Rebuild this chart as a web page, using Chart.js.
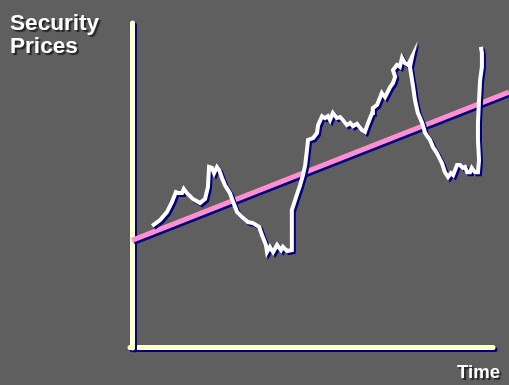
<!DOCTYPE html>
<html>
<head>
<meta charset="utf-8">
<script src="https://cdn.jsdelivr.net/npm/chart.js@4/dist/chart.umd.min.js"></script>
<style>
  body { margin: 0; background: #5f5f5f; }
  #wrap { position: relative; width: 509px; height: 385px; }
  .lbl { position: absolute; color: #ffffff; font-family: "Liberation Sans", Arial, sans-serif;
         font-weight: bold; text-shadow: 2px 2px 1px #262626; white-space: nowrap; }
  #ytitle { left: 10px; top: 11px; font-size: 22.6px; line-height: 23px; }
  #xtitle { left: 457px; top: 363px; font-size: 18.6px; line-height: 18px; }
</style>
</head>
<body>
<div id="wrap">
  <canvas id="chart" width="509" height="385"></canvas>
  <div class="lbl" id="ytitle">Security<br>Prices</div>
  <div class="lbl" id="xtitle">Time</div>
</div>
<script>
// security price path (time 0-100, price 0-100)
var timeVals = [
  5.6, 7.8, 9.7, 11.1, 12.2, 12.8, 13.9, 14.4, 15.3, 16.9,
  18.9, 20.3, 21.1, 21.4, 22.2, 22.8, 23.6, 24.2, 25.0, 25.8,
  27.2, 28.1, 29.2, 30.8, 32.2, 33.6, 35.3, 36.1, 37.2, 37.5,
  38.3, 39.2, 40.3, 41.4, 41.9, 43.1, 44.4, 44.4, 45.6, 46.7,
  47.5, 48.1, 48.6, 48.9, 50.3, 51.4, 51.7, 52.8, 53.6, 54.4,
  55.0, 55.8, 56.9, 57.8, 58.6, 59.7, 60.6, 61.4, 62.5, 63.9,
  64.7, 65.6, 66.7, 66.9, 68.1, 69.4, 70.3, 71.7, 72.5, 73.1,
  72.5, 73.6, 74.4, 75.0, 75.8, 76.7, 77.8, 77.2, 78.1, 78.6,
  79.4, 80.6, 81.4, 82.2, 82.8, 83.6, 84.7, 86.1, 86.9, 87.8,
  88.6, 89.2, 90.3, 91.1, 91.9, 92.5, 93.1, 93.9, 94.4, 95.3,
  96.1, 96.4, 96.1, 96.1, 96.4, 96.7, 97.2, 97.2, 96.9
];
var priceVals = [
  37.6, 39.4, 41.9, 45.0, 48.1, 47.8, 47.8, 49.1, 47.8, 46.0,
  44.7, 46.0, 49.7, 55.9, 55.6, 54.0, 55.9, 55.0, 52.5, 50.3,
  47.8, 45.0, 41.9, 40.1, 38.8, 38.5, 37.3, 34.8, 31.7, 29.5,
  31.1, 29.5, 31.7, 30.1, 31.1, 29.8, 30.1, 42.5, 46.6, 50.3,
  53.4, 56.5, 61.2, 64.3, 64.9, 66.5, 68.9, 71.7, 71.1, 71.7,
  70.5, 72.7, 71.1, 71.4, 70.5, 68.9, 69.6, 68.6, 69.3, 67.4,
  66.8, 69.6, 72.7, 74.2, 75.2, 78.9, 77.6, 80.7, 82.0, 83.9,
  86.0, 87.6, 87.0, 89.8, 88.2, 87.6, 90.1, 87.0, 80.7, 76.7,
  72.7, 69.6, 66.5, 65.2, 64.3, 62.1, 60.2, 57.1, 54.3, 52.8,
  54.0, 53.4, 56.5, 56.5, 55.6, 55.9, 54.3, 54.3, 55.6, 54.3,
  54.3, 58.1, 64.3, 69.6, 76.7, 82.9, 87.0, 91.3, 93.2
];
// trend line end points
var trendTime = [0, 104.7];
var trendPrice = [33.1, 79.2];

function toPoints(xs, ys) {
  var pts = [];
  for (var i = 0; i < xs.length; i++) pts.push({ x: xs[i], y: ys[i] });
  return pts;
}

// navy drop shadow under axes and lines
var shadowPlugin = {
  id: 'navyShadow',
  beforeDraw: function(chart) {
    var ctx = chart.ctx;
    ctx.save();
    ctx.shadowColor = '#000080';
    ctx.shadowOffsetX = 2;
    ctx.shadowOffsetY = 2;
    ctx.shadowBlur = 0;
    ctx.lineCap = 'round';
    ctx.lineJoin = 'round';
  },
  afterDraw: function(chart) {
    chart.ctx.restore();
  }
};

new Chart(document.getElementById('chart'), {
  type: 'line',
  data: {
    datasets: [{
      data: toPoints(timeVals, priceVals),
      borderColor: '#ffffff',
      borderWidth: 4,
      pointRadius: 0,
      tension: 0,
      clip: false
    }, {
      data: toPoints(trendTime, trendPrice),
      borderColor: '#ff8fcf',
      borderWidth: 5,
      pointRadius: 0,
      tension: 0,
      clip: false
    }]
  },
  options: {
    responsive: false,
    animation: false,
    events: [],
    layout: { padding: { left: 132, top: 25, right: 17, bottom: 38 } },
    plugins: { legend: { display: false }, tooltip: { enabled: false } },
    scales: {
      x: {
        type: 'linear', min: 0, max: 100,
        grid: { display: false, drawTicks: false },
        ticks: { display: false },
        border: { display: true, color: '#ffffcc', width: 5 }
      },
      y: {
        type: 'linear', min: 0, max: 100,
        grid: { display: false, drawTicks: false },
        ticks: { display: false },
        border: { display: true, color: '#ffffcc', width: 5 }
      }
    }
  },
  plugins: [shadowPlugin]
});
</script>
</body>
</html>
